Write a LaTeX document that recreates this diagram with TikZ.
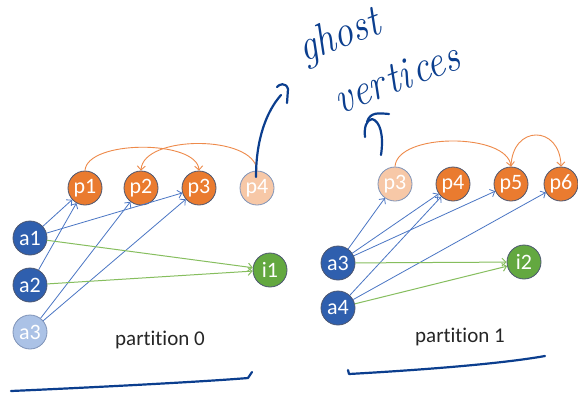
\documentclass[tikz,border=0pt]{standalone}
\usepackage{fontspec}
\newfontfamily\lblfont[Ligatures={NoCommon}]{Carlito}
\usetikzlibrary{arrows.meta,calc}

\definecolor{nodeblue}{HTML}{2F5FAE}
\definecolor{paleblue}{HTML}{ABC2E6}
\definecolor{orangefill}{HTML}{EA7B2F}
\definecolor{paleorange}{HTML}{F7C8A7}
\definecolor{greenfill}{HTML}{63A840}
\definecolor{edgeblue}{HTML}{4A76C4}
\definecolor{edgegreen}{HTML}{86BE5E}
\definecolor{edgeorange}{HTML}{EE8A4A}
\definecolor{ink}{HTML}{0B3E8E}
\definecolor{rim}{HTML}{4C5670}
\definecolor{palerim}{HTML}{7F93B8}

\tikzset{
  vtx/.style={circle, minimum size=34pt, inner sep=0pt, draw=rim, line width=0.8pt,
    text=white, font=\lblfont\fontsize{22}{22}\selectfont},
  act/.style={vtx, fill=nodeblue},
  actghost/.style={vtx, fill=paleblue, draw=palerim},
  prop/.style={vtx, fill=orangefill},
  propghost/.style={vtx, fill=paleorange, draw=palerim},
  inact/.style={vtx, fill=greenfill},
  tip/.style={-{Straight Barb[length=4pt,width=8pt]}},
  bluelink/.style={tip, draw=edgeblue, line width=0.8pt},
  greenlink/.style={tip, draw=edgegreen, line width=1pt},
  orangelink/.style={tip, draw=edgeorange, line width=0.9pt},
  caption/.style={font=\lblfont\fontsize{21}{21}\selectfont, text=black!85},
  hand/.style={draw=ink, line width=2.2pt, line cap=round, line join=round},
  handtext/.style={text=ink, font=\itshape\fontsize{39}{39}\selectfont, inner sep=0pt,
    anchor=base west}
}

\begin{document}
\begin{tikzpicture}[x=1pt, y=-1pt]
  \fill[white] (0,0) rectangle (578,392);
  \useasboundingbox (0,0) rectangle (578,392);

  % partition 0
  \node[prop]      (lp1) at (85,188)  {p1};
  \node[prop]      (lp2) at (141,188) {p2};
  \node[prop]      (lp3) at (199,188) {p3};
  \node[propghost] (lp4) at (257,188) {p4};
  \node[act]       (la1) at (30,238)  {a1};
  \node[act]       (la2) at (30,285)  {a2};
  \node[actghost]  (la3) at (30,332)  {a3};
  \node[inact]     (li1) at (270,270) {i1};
  \node[caption]   (cap0) at (160,340) {partition 0};

  \draw[bluelink] (la1) -- (lp1);
  \draw[bluelink] (la1) -- (lp3);
  \draw[bluelink] (la2) -- (lp1);
  \draw[bluelink] (la3) -- (lp2);
  \draw[bluelink] (la3) -- (lp3);
  \draw[greenlink] (la1) -- (li1);
  \draw[greenlink] (la2) -- (li1);

  \draw[orangelink] (lp1.north) .. controls ($(lp1.north)+(2,-31)$) and ($(lp3.north)+(-2,-31)$) .. (lp3.north);
  \draw[orangelink] (lp4.north) .. controls ($(lp4.north)+(-2,-36)$) and ($(lp2.north)+(2,-36)$) .. (lp2.north);

  % partition 1
  \node[propghost] (rp3) at (395,184) {p3};
  \node[prop]      (rp4) at (453,184) {p4};
  \node[prop]      (rp5) at (511,184) {p5};
  \node[prop]      (rp6) at (561,184) {p6};
  \node[act]       (ra3) at (338,263) {a3};
  \node[act]       (ra4) at (338,308) {a4};
  \node[inact]     (ri2) at (524,262) {i2};
  \node[caption]   (cap1) at (460,337) {partition 1};

  \draw[bluelink] (ra3) -- (rp3);
  \draw[bluelink] (ra3) -- (rp4);
  \draw[bluelink] (ra3) -- (rp5);
  \draw[bluelink] (ra4) -- (rp4);
  \draw[bluelink] (ra4) -- (rp6);
  \draw[greenlink] (ra3) -- (ri2);
  \draw[greenlink] (ra4) -- (ri2);

  \draw[orangelink] (rp3.north) .. controls ($(rp3.north)+(2,-34)$) and ($(rp5.north)+(-4,-34)$) .. (rp5.north);
  \draw[orangelink] (rp5.north) .. controls ($(rp5.north)+(1,-42)$) and ($(rp6.north)+(-1,-42)$) .. (rp6.north);

  % handwritten note, two lines set as one block
  \node[handtext, rotate=21] (note) at (304,63)
    {\vtop{\baselineskip=61pt
      \hbox{\scalebox{1}[1.15]{ghost}}
      \hbox{\kern16pt\scalebox{1}[1.15]{ver\kern3pt ti\kern3pt ces}}}};

  \coordinate (tipA) at (281,95);
  \draw[hand] ($(lp4.center)+(-1,-11)$) .. controls (256,140) and (266,112) .. (tipA);
  \draw[hand] (277,87) .. controls (279,84) and (286,82) .. (288,89) -- (287,103);

  \coordinate (tipB) at (372,119);
  \draw[hand] (381,155) .. controls (384,135) and (380,121) .. (tipB) .. controls (366,120) and (364,128) .. (365,137);
  \draw[hand] (367,122) .. controls (370,112) and (378,113) .. (389,114);

  % brackets under the partitions
  \coordinate (b0s) at (11,391);
  \coordinate (b0e) at (252,372);
  \draw[hand] (b0s) .. controls (80,388) and (200,382) .. (248,378) -- (b0e);
  \coordinate (b1s) at (348,370);
  \coordinate (b1e) at (545,356);
  \draw[hand] (b1s) -- (349,374) .. controls (420,370) and (500,364) .. (b1e);
\end{tikzpicture}
\end{document}
